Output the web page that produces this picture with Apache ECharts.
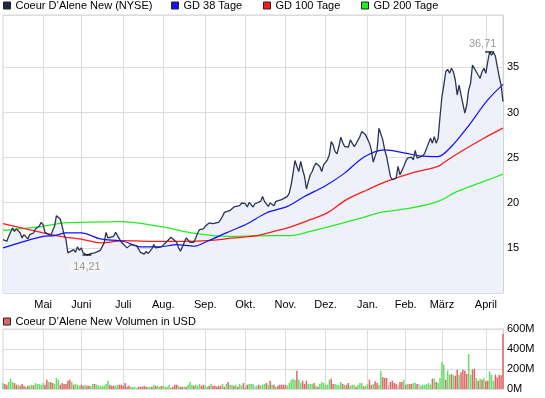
<!DOCTYPE html>
<html>
<head>
<meta charset="utf-8">
<script src="https://cdn.jsdelivr.net/npm/echarts@6/dist/echarts.min.js"></script>
<style>
html, body { margin: 0; padding: 0; background: #fff; }
#chart { width: 545px; height: 398px; }
</style>
</head>
<body>
<div id="chart"></div>
<script>
// trading days, Apr 2010 - Apr 2011 (1 Tick = 1 Tag)
const dayCount = 263;
const monthStart = [21, 41, 63, 84, 106, 127, 148, 169, 191, 211, 230, 253];
const monthNames = ['Mai', 'Juni', 'Juli', 'Aug.', 'Sep.', 'Okt.', 'Nov.', 'Dez.', 'Jan.', 'Feb.', 'März', 'April'];

const priceName = 'Coeur D\u2019Alene New (NYSE)';
const volName = 'Coeur D\u2019Alene New Volumen in USD';

// [day, close]
const price = [[0,15.92],[2,15.73],[3,16.28],[5,17.21],[6,16.83],[7,17.10],[9,16.65],[10,16.10],[11,16.47],[13,15.99],
  [14,16.47],[16,16.65],[17,17.10],[19,17.39],[20,17.83],[21,17.57],[22,16.72],[23,16.72],[25,16.36],[26,16.47],
  [27,17.39],[28,18.57],[30,18.20],[31,17.39],[32,16.47],[33,15.92],[34,14.44],[35,14.62],[37,14.81],[38,14.51],
  [39,15.11],[40,14.73],[41,14.99],[42,14.44],[43,14.62],[44,14.21],[46,14.37],[47,14.25],[48,14.44],[49,14.30],
  [51,14.73],[52,14.89],[53,15.55],[54,16.72],[55,16.10],[56,15.99],[58,16.28],[59,16.72],[61,15.99],[62,15.62],
  [63,15.55],[65,15.00],[66,14.80],[67,15.36],[68,15.47],[70,15.25],[71,15.11],[72,14.51],[74,14.30],[75,14.62],
  [76,14.37],[78,14.89],[79,15.36],[80,15.00],[81,14.81],[83,15.11],[84,15.25],[86,15.73],[88,16.17],[89,15.99],
  [91,15.62],[92,15.00],[93,14.62],[94,15.11],[95,15.62],[96,16.10],[97,16.28],[98,15.62],[99,15.84],[100,15.62],
  [101,16.10],[102,16.65],[103,17.02],[105,17.10],[106,17.39],[108,17.76],[109,17.83],[110,17.68],[111,17.76],[113,17.83],
  [114,18.12],[115,18.49],[116,18.93],[117,18.79],[119,19.15],[120,19.23],[121,19.53],[122,19.42],[124,19.67],[125,19.97],
  [127,19.89],[128,19.53],[129,20.04],[130,19.99],[131,19.53],[132,19.89],[133,19.67],[135,20.15],[136,20.70],[137,20.15],
  [138,20.34],[139,19.60],[140,19.97],[142,19.67],[143,20.15],[144,19.97],[146,20.34],[147,20.53],[149,20.70],[150,21.07],
  [151,21.99],[152,23.28],[153,24.68],[154,24.02],[155,23.46],[156,24.57],[157,23.65],[158,22.91],[159,21.52],[160,22.36],
  [161,23.10],[162,23.46],[163,24.02],[164,24.39],[166,24.02],[167,23.46],[168,24.20],[170,24.75],[171,25.31],[172,26.78],
  [173,26.41],[174,25.67],[175,25.42],[176,26.23],[177,27.26],[178,26.67],[179,26.23],[181,26.16],[182,26.96],[184,26.23],
  [185,26.53],[186,26.31],[187,27.33],[188,27.88],[190,27.52],[191,27.70],[192,26.60],[193,25.86],[194,24.50],[195,24.39],
  [196,25.80],[197,28.26],[199,26.96],[200,25.86],[201,25.12],[202,24.02],[203,22.91],[204,22.55],[206,22.73],[207,24.02],
  [208,23.10],[209,23.28],[210,24.02],[211,24.57],[212,24.94],[213,24.75],[214,25.05],[215,24.75],[216,25.79],[217,24.94],
  [218,24.94],[220,25.20],[221,25.50],[222,26.05],[223,25.95],[224,27.15],[225,26.60],[226,27.33],[227,26.60],[228,27.15],
  [229,29.53],[230,31.74],[231,33.03],[232,34.51],[233,34.78],[234,34.34],[235,34.89],[236,34.51],[237,33.60],[238,31.94],
  [239,33.04],[240,31.94],[241,31.75],[242,29.92],[243,30.83],[244,32.49],[245,33.23],[246,35.25],[247,34.89],[248,34.51],
  [249,34.15],[250,33.78],[251,34.51],[252,34.89],[253,34.34],[254,35.62],[255,36.71],[256,36.36],[257,36.65],[258,36.25],
  [259,35.07],[260,33.96],[261,33.04],[262,31.20]];

const gd38 = [[0,15.00],[21,16.28],[27,16.36],[33,16.66],[41,16.66],[51,15.99],[63,15.73],[72,15.11],[82,15.11],[91,15.36],
  [100,15.18],[107,15.73],[117,16.66],[128,17.68],[138,18.87],[149,19.60],[158,20.70],[169,21.88],[179,23.28],[189,25.05],
  [200,25.86],[211,25.50],[218,25.20],[228,25.12],[235,26.23],[243,28.26],[254,31.39],[262,33.12]];

const gd100 = [[0,17.68],[21,16.66],[30,16.28],[42,15.92],[51,15.55],[63,15.80],[77,15.73],[95,15.73],[107,15.80],[121,16.10],
  [133,16.36],[140,16.72],[149,17.21],[161,18.12],[170,18.87],[180,20.34],[191,21.44],[201,22.36],[214,23.28],[228,24.02],
  [231,24.46],[240,25.67],[252,27.15],[262,28.26]];

const gd200 = [[0,16.94],[21,17.39],[32,17.76],[42,17.83],[61,17.90],[84,17.32],[96,16.77],[110,16.36],[121,16.28],[140,16.36],
  [151,16.36],[161,16.83],[175,17.57],[186,18.20],[198,18.93],[214,19.42],[228,20.15],[238,21.25],[252,22.36],[262,23.18]];

// volume in Mio. USD per day
const volume = [60,50,43,70,103,70,60,43,43,33, 50,33,23,33,33,43,37,60,50,50, 40,60,43,93,70,70,60,50,110,93,
  43,60,50,50,83,93,70,43,50,43, 33,43,33,43,33,33,30,50,50,43, 37,27,33,33,50,83,43,33,33,33,
  43,43,43,33,60,23,33,23,20,23, 10,23,23,23,33,23,23,23,23,43, 33,33,23,30,33,23,23,43,10,23, 43,43,33,23,
  23,23,23,43,70,43,33,43,33,50, 33,43,33,23,33,50,33,33,23,33, 30, 50,23,50,70,43,43,33,43,23,50,
  33,60,23,43,50,50,50,33,33,43, 35, 43,50,60,43,83,43,43,23,33,43, 43,43,43,33,60,93,103,93,183,93,
  60,83,50,83,50,50,50,60,33,23, 50,70,60,43,43,93,103,50,50,43, 40, 70,50,43,43,60,33,43,43,23,43, 60,
  60,27,33,50,93,40,50,77,60,43,183, 117,110,110,43,70,83,60,50,43,70, 70,93,43,50,50,50,60,60,50,50,
  33,43,43,50,60,45,103,103,70,60,110, 270,243,93,183,143,150,137,133,193,143, 167,193,183,150,350,143,193,203,110,83,
  103,93,110,77,83,177,143,83,143,117, 143,137,550];
// G = Tag im Plus, R = im Minus, N = unverändert
const volDir = 'GRRGGGRRGRRRGRGGRGGGGGRRGRRGGGRRRRRRGRGGGRRGRRGGRGGGGGGGRRRGGRRRRRRGGGGRRRRRGGRGRGGRGGGGRRRRGR' +
  'RGRGGGRGGGRRGGRGRRRRRGRGRGGRGRGGRGRGGGNGRGGGRGRGRGRRRRRGGGGGRGGRRRGGGRGRGGGGGGRRGGGGRGRRGGGRGG' +
  'GRGGRRGRRGGRRRNRRRRNRRGRGRRGGRNGGGGGGRGRGGGGRGGRGRRGRRRRGGRRGRGRGRRGGGRRRRR';

const days = Array.from({ length: dayCount }, (_, i) => String(i));
const font = 'Liberation Sans';
const gridColor = '#dcdcdc';
const isMonth = i => monthStart.indexOf(i) >= 0;

const legendBase = {
  icon: 'rect', itemWidth: 7, itemHeight: 7, selectedMode: false, top: 0, padding: 0,
  itemStyle: { borderColor: '#222', borderWidth: 1 },
  textStyle: { fontSize: 11, fontFamily: font, color: '#000' }
};

const chart = echarts.init(document.getElementById('chart'), null, { renderer: 'canvas' });

const option = {
  animation: false,
  legend: [
    Object.assign({}, legendBase, { data: [priceName], left: 3 }),
    Object.assign({}, legendBase, { data: ['GD 38 Tage'], left: 171 }),
    Object.assign({}, legendBase, { data: ['GD 100 Tage'], left: 263 }),
    Object.assign({}, legendBase, { data: ['GD 200 Tage'], left: 361 }),
    Object.assign({}, legendBase, { data: [{ name: volName, itemStyle: { color: '#e06666' } }], left: 3, top: 316 })
  ],
  grid: [
    { left: 3, right: 42, top: 15, height: 278, show: true, borderColor: '#d4d4d4', borderWidth: 1 },
    { left: 3, right: 42, top: 329, height: 60, show: true, borderColor: '#d4d4d4', borderWidth: 1 }
  ],
  xAxis: [
    {
      type: 'category', gridIndex: 0, data: days, boundaryGap: false,
      axisLine: { show: false }, axisTick: { show: false },
      axisLabel: {
        interval: i => isMonth(i), margin: 6, fontSize: 11, fontFamily: font, color: '#000',
        formatter: v => monthNames[monthStart.indexOf(+v)]
      },
      splitLine: { show: true, interval: i => isMonth(i), lineStyle: { color: gridColor } }
    },
    {
      type: 'category', gridIndex: 1, data: days, boundaryGap: false,
      axisLine: { show: false }, axisTick: { show: false }, axisLabel: { show: false },
      splitLine: { show: true, interval: i => isMonth(i), lineStyle: { color: gridColor } }
    }
  ],
  yAxis: [
    {
      type: 'value', gridIndex: 0, position: 'right', min: 10, max: 40.8, interval: 5,
      axisLine: { show: true, lineStyle: { color: '#d4d4d4' } }, axisTick: { show: false },
      axisLabel: {
        margin: 4, fontSize: 11, fontFamily: font, color: '#000', showMaxLabel: false,
        formatter: v => (v > 10 && v < 40) ? String(v) : ''
      },
      splitLine: { lineStyle: { color: [gridColor, gridColor, gridColor, gridColor, gridColor, gridColor, 'rgba(0,0,0,0)', gridColor] } }
    },
    {
      type: 'value', gridIndex: 1, position: 'right', min: 0, max: 600, interval: 200,
      axisLine: { show: true, lineStyle: { color: '#d4d4d4' } }, axisTick: { show: false },
      axisLabel: { margin: 4, fontSize: 11, fontFamily: font, color: '#000', formatter: v => v + 'M' },
      splitLine: { lineStyle: { color: gridColor } }
    }
  ],
  graphic: [{
    type: 'text', left: 8, top: 281,
    style: { text: '1 Tick = 1 Tag', fill: '#a0a0a0', font: '10px "Liberation Sans"' }
  }],
  series: [
    {
      name: 'fill', type: 'line', data: price, symbol: 'none', z: 1,
      lineStyle: { width: 0 }, areaStyle: { color: '#eef1f9', origin: 'start', opacity: 1 }
    },
    {
      name: 'GD 200 Tage', type: 'line', data: gd200, symbol: 'none', smooth: 0.3, z: 2,
      itemStyle: { color: '#22ee22' }, lineStyle: { color: '#22ee22', width: 1.3 }
    },
    {
      name: 'GD 100 Tage', type: 'line', data: gd100, symbol: 'none', smooth: 0.3, z: 2,
      itemStyle: { color: '#ff1a1a' }, lineStyle: { color: '#ff1a1a', width: 1.3 }
    },
    {
      name: 'GD 38 Tage', type: 'line', data: gd38, symbol: 'none', smooth: 0.3, z: 2,
      itemStyle: { color: '#1010ff' }, lineStyle: { color: '#1010ff', width: 1.2 }
    },
    {
      name: priceName, type: 'line', data: price, symbol: 'none', z: 3,
      itemStyle: { color: '#1c2847' }, lineStyle: { color: '#2b3553', width: 1.3 },
      markPoint: {
        symbol: 'rect', symbolSize: [9, 1.2], itemStyle: { color: '#000' },
        label: {
          show: true, color: '#999', fontSize: 11, fontFamily: font,
          formatter: p => p.value.toFixed(2).replace('.', ',')
        },
        data: [
          { type: 'max', label: { position: 'top', distance: 2, offset: [-7, 0] } },
          { type: 'min', label: { position: 'bottom', distance: 6, backgroundColor: '#f5f5f5', padding: [0, 4], lineHeight: 11 } }
        ]
      }
    },
    {
      name: volName, type: 'bar', xAxisIndex: 1, yAxisIndex: 1, data: volume, barWidth: 1.5,
      itemStyle: {
        color: p => volDir[p.dataIndex] === 'G' ? '#66dd66' : (volDir[p.dataIndex] === 'R' ? '#e06666' : '#c0c0c0')
      }
    }
  ]
};

chart.setOption(option);
</script>
</body>
</html>
